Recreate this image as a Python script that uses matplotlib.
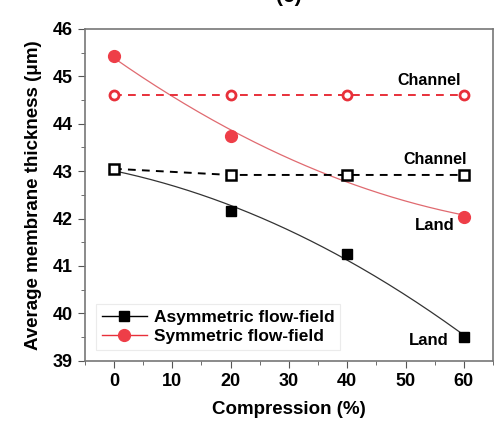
import numpy as np
import matplotlib
matplotlib.use("Agg")
import matplotlib.pyplot as plt
from matplotlib.ticker import MultipleLocator

compression = [0, 20, 40, 60]
asym_land = [43.05, 42.15, 41.25, 39.5]
asym_channel = [43.05, 42.92, 42.92, 42.92]
sym_land = [45.43, 43.74, 42.9, 42.03]
sym_channel = [44.6, 44.6, 44.6, 44.6]

plt.rcParams['font.family'] = ['Liberation Sans', 'DejaVu Sans']
plt.rcParams['font.weight'] = 'bold'

fig = plt.figure(figsize=(4.96, 4.25), dpi=100)
ax = fig.add_axes([0.171, 0.151, 0.823, 0.781])

red = '#e8303a'
x = np.array(compression, dtype=float)
xs = np.linspace(0, 60, 200)

# fitted trend curves
pa = np.polyfit(x, asym_land, 2)
ps = np.polyfit(x, sym_land, 2)
ax.plot(xs, np.polyval(pa, xs), color='#333333', lw=0.9, zorder=2)
ax.plot(xs, np.polyval(ps, xs), color='#e06a70', lw=0.9, zorder=2)

# channel dashed lines
ax.plot(x, sym_channel, ls=(0, (4, 3.2)), color=red, lw=1.4, marker='o',
        ms=6.5, mfc='white', mec=red, mew=2, zorder=3)
ax.plot(x, asym_channel, ls=(0, (4, 3.2)), color='black', lw=1.4, marker='s',
        ms=6.5, mfc='white', mec='black', mew=1.8, zorder=4)

# land markers
ax.plot(x, sym_land, ls='none', marker='o', ms=8.5, color='#ee3e48',
        markevery=[0, 1, 3], zorder=3)
ax.plot(x, asym_land, ls='none', marker='s', ms=7.5, color='black',
        markevery=[1, 2, 3], zorder=3)

# legend handles
h1, = ax.plot([], [], color='black', lw=1, marker='s', ms=7.5)
h2, = ax.plot([], [], color=red, lw=1, marker='o', ms=8.5, mfc='#ee3e48', mec='#ee3e48')
leg = ax.legend([h1, h2], ['Asymmetric flow-field', 'Symmetric flow-field'],
                loc='lower left', bbox_to_anchor=(0.005, 0.005), fontsize=12.5,
                frameon=True, fancybox=False, edgecolor='#e6e6e6',
                handlelength=2.6, handletextpad=0.4, borderpad=0.35,
                labelspacing=0.25)
leg.get_frame().set_linewidth(0.8)

# annotations
ax.text(54.0, 44.92, 'Channel', ha='center', va='center', fontsize=11.5, fontweight='bold')
ax.text(55.0, 43.25, 'Channel', ha='center', va='center', fontsize=11.5, fontweight='bold')
ax.text(55.0, 41.86, 'Land', ha='center', va='center', fontsize=12, fontweight='bold')
ax.text(54.0, 39.42, 'Land', ha='center', va='center', fontsize=12, fontweight='bold')

ax.set_xlim(-5, 65)
ax.set_ylim(39, 46)
ax.xaxis.set_major_locator(MultipleLocator(10))
ax.xaxis.set_minor_locator(MultipleLocator(5))
ax.yaxis.set_major_locator(MultipleLocator(1))
ax.yaxis.set_minor_locator(MultipleLocator(0.5))
ax.tick_params(which='both', direction='out', colors='#555555', labelcolor='black')
ax.tick_params(which='major', length=5, labelsize=13)
ax.tick_params(which='minor', length=3)
for lab in ax.get_xticklabels() + ax.get_yticklabels():
    lab.set_fontweight('bold')
for s in ax.spines.values():
    s.set_color('#777777')
    s.set_linewidth(1.2)

ax.set_xlabel('Compression (%)', fontsize=13.5, fontweight='bold', labelpad=8)
ax.set_ylabel('Average membrane thickness (\u03bcm)', fontsize=13.5, fontweight='bold', labelpad=8)

fig.text(0.582, 1.008, '(c)', ha='center', va='center', fontsize=15, fontweight='bold')

fig.savefig('out.png', dpi=100)
